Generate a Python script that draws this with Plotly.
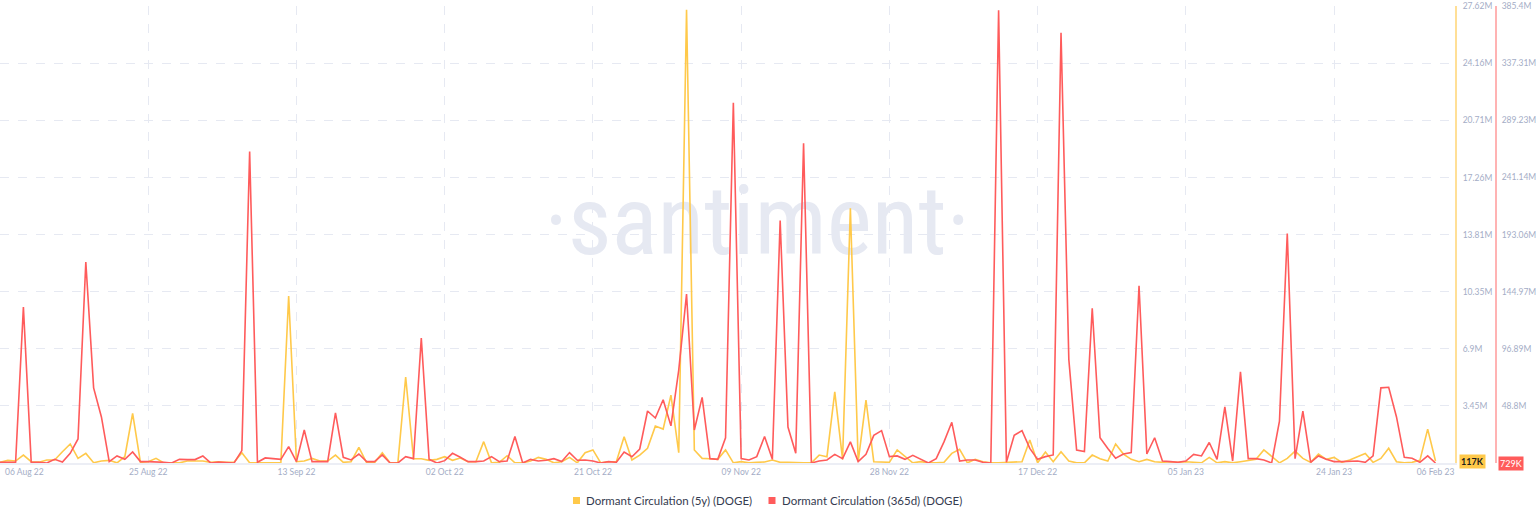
import pandas as pd
import plotly.graph_objects as go

# ---------------- data (values in millions of DOGE) ----------------
start_date = "2022-08-06"

dormant_5y_m = [
    0.04, 0.16, 0.12, 0.48, 0.08, 0.05, 0.18, 0.18, 0.68, 1.15,
    0.28, 0.58, 0.02, 0.12, 0.16, 0.01, 0.38, 3.0, 0.04, 0.08,
    0.28, 0.01, 0.01, 0.01, 0.12, 0.12, 0.12, 0.04, 0.08, 0.04,
    0.04, 0.62, 0.01, 0.01, 0.01, 0.01, 0.01, 10.1, 0.08, 0.12,
    0.28, 0.12, 0.12, 0.48, 0.04, 0.08, 0.95, 0.01, 0.01, 0.62,
    0.01, 0.01, 5.2, 0.26, 0.26, 0.16, 0.22, 0.38, 0.16, 0.3,
    0.08, 0.08, 1.29, 0.01, 0.04, 0.44, 0.01, 0.01, 0.12, 0.34,
    0.22, 0.01, 0.08, 0.34, 0.01, 0.62, 0.79, 0.01, 0.08, 0.08,
    1.59, 0.18, 0.48, 0.89, 2.23, 2.05, 4.1, 0.62, 27.4, 0.79,
    0.28, 0.26, 0.22, 0.79, 0.01, 0.08, 0.01, 0.04, 0.06, 0.18,
    0.04, 0.04, 0.01, 0.01, 0.01, 0.48, 0.38, 4.3, 0.22, 15.4,
    0.08, 3.8, 0.08, 0.08, 0.04, 0.79, 0.38, 0.01, 0.08, 0.01,
    0.01, 0.04, 0.58, 0.83, 0.01, 0.22, 0.08, 0.01, 0.01, 0.04,
    0.08, 0.08, 1.39, 0.01, 0.66, 0.08, 0.68, 0.12, 0.01, 0.01,
    0.48, 0.26, 0.12, 1.15, 0.54, 0.22, 0.08, 0.22, 0.08, 0.04,
    0.08, 0.04, 0.08, 0.06, 0.01, 0.34, 0.01, 0.08, 0.01, 0.08,
    0.16, 0.22, 0.79, 0.42, 0.01, 0.28, 0.72, 0.28, 0.04, 0.54,
    0.22, 0.34, 0.04, 0.18, 0.38, 0.58, 0.04, 0.28, 0.89, 0.08,
    0.01, 0.04, 0.16, 2.05, 0.117,
]

dormant_365d_m = [
    1.3, 1.3, 1.3, 132, 1.3, 1.3, 0.76, 3.8, 1.6, 8.9,
    21, 170, 64, 39.5, 1.9, 6.7, 3.8, 10, 1.9, 1.9,
    1.3, 1.3, 0.76, 3.8, 3.6, 3.6, 6.7, 0.76, 1.6, 1.3,
    0.76, 11.2, 263, 1.3, 5, 4.4, 3.8, 14.5, 1.9, 28.5,
    1.9, 1.9, 1.9, 43, 5.5, 3.3, 8.3, 1.9, 1.9, 7.5,
    0.76, 0.76, 6.1, 4.4, 106, 3.8, 0.76, 2.7, 8.9, 5.5,
    1.9, 1.9, 2.4, 6.1, 1.9, 2.4, 23, 0.76, 3.8, 2.4,
    3, 4.4, 1.9, 9.5, 3, 3.3, 2.4, 0.76, 1.9, 1.3,
    10, 6, 12.5, 44.5, 38.6, 54, 32, 79, 143, 28.5,
    56, 4.4, 3.8, 22, 304, 4.4, 3.3, 6.1, 23, 3.8,
    205, 31, 9, 270, 0.76, 2.4, 3.3, 8, 4.4, 18.5,
    1.9, 8, 24, 28, 6.1, 6.7, 3.8, 7.2, 3.8, 0.76,
    4.4, 18.5, 35, 2.4, 3.3, 3.3, 1.3, 0.76, 382, 1.3,
    24, 28, 13, 3.8, 6.1, 7.5, 363, 88, 11.7, 10.3,
    131, 22, 13, 4.7, 8.3, 9.5, 150, 8.3, 22, 2.4,
    1.9, 1.3, 2.4, 8, 6.7, 18, 3.8, 48, 2.4, 77.5,
    4.4, 4.4, 3.3, 0.76, 36, 194, 4.4, 44.5, 1.3, 6.7,
    3.8, 1.9, 1.9, 1.9, 2.4, 1.3, 6.7, 64, 64.5, 39.5,
    5.5, 4.7, 1.3, 6.7, 0.729,
]

series_names = ["Dormant Circulation (5y) (DOGE)", "Dormant Circulation (365d) (DOGE)"]
last_value_labels = ["117K", "729K"]

x_label_dates = ["2022-08-25", "2022-09-13", "2022-10-02", "2022-10-21", "2022-11-09",
                 "2022-11-28", "2022-12-17", "2023-01-05", "2023-01-24", "2023-02-06"]
x_label_text = ["25 Aug 22", "13 Sep 22", "02 Oct 22", "21 Oct 22", "09 Nov 22",
                "28 Nov 22", "17 Dec 22", "05 Jan 23", "24 Jan 23", "06 Feb 23"]
first_label_date = "2022-08-06"
first_label_text = "06 Aug 22"
x_grid_dates = ["2022-08-06", "2022-08-25", "2022-09-13", "2022-10-02", "2022-10-21",
                "2022-11-09", "2022-11-28", "2022-12-17", "2023-01-05", "2023-01-24"]
x_range = ["2022-08-06", "2023-02-08 12:00"]

y5_ticks_m = [3.45, 6.9, 10.35, 13.81, 17.26, 20.71, 24.16, 27.62]
y5_tick_text = ["3.45M", "6.9M", "10.35M", "13.81M", "17.26M", "20.71M", "24.16M", "27.62M"]
y5_range_m = [0, 27.62]

y365_ticks_m = [48.8, 96.89, 144.97, 193.06, 241.14, 289.23, 337.31, 385.4]
y365_tick_text = ["48.8M", "96.89M", "144.97M", "193.06M", "241.14M", "289.23M", "337.31M", "385.4M"]
y365_range_m = [0.729, 385.4]

# ---------------- styling ----------------
W, H = 1536, 520
YELLOW = "#ffc94a"
RED = "#ff5b5b"
AXIS_TXT = "#a4adc6"
GRID = "#e6e9f2"
FONT = "Lato"
TICK_SIZE = 8.5
M = 1e6
PLOT_TOP, PLOT_BOTTOM = 6, 463


def py_to_paper(py):
    return (PLOT_BOTTOM - py) / (PLOT_BOTTOM - PLOT_TOP)


dates = pd.date_range(start_date, periods=len(dormant_5y_m), freq="D")
y5 = [v * M for v in dormant_5y_m]
y365 = [v * M for v in dormant_365d_m]

fig = go.Figure()
fig.add_trace(go.Scatter(x=dates, y=y5, mode="lines", name=series_names[0],
                         line=dict(color=YELLOW, width=1.6), yaxis="y", showlegend=False))
fig.add_trace(go.Scatter(x=dates, y=y365, mode="lines", name=series_names[1],
                         line=dict(color=RED, width=1.6), yaxis="y2", showlegend=False))

plot_right_px = 1455
fig.update_layout(
    width=W, height=H,
    margin=dict(l=0, r=0, t=PLOT_TOP, b=H - PLOT_BOTTOM, autoexpand=False),
    paper_bgcolor="white", plot_bgcolor="white",
    font=dict(family=FONT, color=AXIS_TXT, size=TICK_SIZE),
    xaxis=dict(
        domain=[0, plot_right_px / W],
        range=x_range, type="date",
        tickmode="array", tickvals=x_label_dates, ticktext=x_label_text,
        showgrid=False, ticks="", zeroline=False,
        showline=True, linecolor="#eceef5", linewidth=2,
        ticklabeloverflow="allow",
        tickfont=dict(size=TICK_SIZE, color=AXIS_TXT, family=FONT),
        minor=dict(tickmode="array", tickvals=x_grid_dates, showgrid=True,
                   gridcolor=GRID, griddash="dash", gridwidth=1, ticks=""),
    ),
    yaxis=dict(
        side="right", anchor="x",
        range=[y5_range_m[0] * M, y5_range_m[1] * M * 1.0004],
        tickmode="array", tickvals=[v * M for v in y5_ticks_m], ticktext=y5_tick_text,
        showgrid=True, gridcolor=GRID, griddash="dash", gridwidth=1,
        zeroline=False, ticks="",
        showline=True, linecolor="#ffdf96", linewidth=2,
        ticklabelstandoff=4, ticklabeloverflow="allow",
        tickfont=dict(size=TICK_SIZE, color=AXIS_TXT, family=FONT),
    ),
    yaxis2=dict(
        overlaying="y", side="right", anchor="free", position=1496 / W,
        range=[y365_range_m[0] * M, y365_range_m[1] * M * 1.0004],
        tickmode="array", tickvals=[v * M for v in y365_ticks_m], ticktext=y365_tick_text,
        showgrid=False, zeroline=False, ticks="",
        showline=True, linecolor="#ffb3b3", linewidth=2,
        ticklabelstandoff=3, ticklabeloverflow="allow",
        tickfont=dict(size=TICK_SIZE, color=AXIS_TXT, family=FONT),
    ),
    showlegend=False,
)

# watermark behind the lines
fig.add_shape(
    type="rect", xref="paper", yref="paper",
    x0=0.30, x1=0.686, y0=py_to_paper(274), y1=py_to_paper(154),
    line=dict(width=0), fillcolor="rgba(0,0,0,0)", layer="below",
    label=dict(text="·santiment·", textposition="middle center",
               font=dict(size=96, color="#e6e9f2",
                         family="Liberation Sans Narrow, Roboto Condensed, Open Sans")),
)

# legend: square swatch + label for each series
legend_items = [
    (series_names[0], YELLOW, 576.5, 584),
    (series_names[1], RED, 772, 780),
]
for name, color, sq_cx, text_x in legend_items:
    fig.add_shape(type="rect", xref="paper", yref="paper",
                  x0=(sq_cx - 3.5) / W, x1=(sq_cx + 3.5) / W,
                  y0=py_to_paper(504), y1=py_to_paper(497),
                  fillcolor=color, line=dict(width=0))
    fig.add_annotation(x=text_x / W, xref="paper", y=py_to_paper(500.5), yref="paper",
                       xanchor="left", yanchor="middle", text=name, showarrow=False,
                       font=dict(size=11.5, color="#353b4f", family=FONT))

# first date label, kept inside the plot
fig.add_annotation(
    x=first_label_date, xref="x", y=0, yref="paper", yanchor="top", xanchor="left",
    text=first_label_text, showarrow=False, xshift=3, yshift=-2,
    font=dict(size=TICK_SIZE, color=AXIS_TXT, family=FONT),
)

# last-value badges
fig.add_annotation(
    x=1459 / W, xref="paper", y=y5[-1], yref="y", xanchor="left", yanchor="middle",
    text="<b>" + last_value_labels[0] + "</b>", showarrow=False,
    bgcolor=YELLOW, borderpad=1, font=dict(size=9, color="#1c1c1c", family=FONT),
)
fig.add_annotation(
    x=1498 / W, xref="paper", y=y365[-1], yref="y2", xanchor="left", yanchor="middle",
    text=last_value_labels[1], showarrow=False,
    bgcolor=RED, borderpad=1, font=dict(size=9, color="white", family=FONT),
)

fig.write_html("out.html", config={"displayModeBar": False},
               post_script="document.body.style.margin='0';")
